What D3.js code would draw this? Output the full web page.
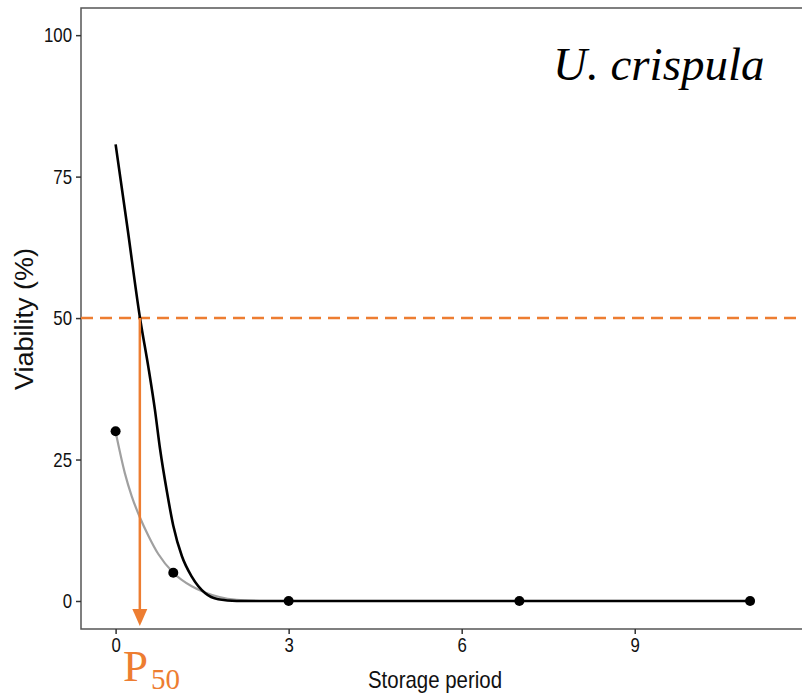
<!DOCTYPE html>
<html>
<head>
<meta charset="utf-8">
<script src="https://cdn.jsdelivr.net/npm/d3@7"></script>
<style>
  body { margin: 0; background: #fff; }
  svg { display: block; }
</style>
</head>
<body>
<script>
// values
var pointX = [0, 1, 3, 7, 11];
var pointY = [30, 5, 0, 0, 0];

// black fitted curve
var blackX = [0, 0.21, 0.42, 0.57, 0.68, 0.77, 0.89, 1.0, 1.15, 1.32, 1.55, 1.78, 2.1, 2.5, 3, 7, 11];
var blackY = [80.7, 65.6, 50.2, 41.2, 33.9, 26.9, 19.3, 13.3, 7.9, 4.3, 1.4, 0.3, 0, 0, 0, 0, 0];

// grey fitted curve
var grayX = [0, 0.16, 0.28, 0.42, 0.57, 0.74, 1.0, 1.32, 1.55, 1.8, 2.1, 2.5];
var grayY = [29.9, 22.6, 18.5, 14.8, 11.5, 8.3, 5.0, 2.6, 1.5, 0.7, 0.2, 0];

var p50 = 0.42;
var xTicks = [0, 3, 6, 9];
var yTicks = [0, 25, 50, 75, 100];

var width = 802, height = 697;
var orange = "#ED7D31";

var svg = d3.select("body").append("svg")
    .attr("width", width)
    .attr("height", height);

var x = d3.scaleLinear().domain([-0.6, 11.9]).range([81, 802]);
var y = d3.scaleLinear().domain([-4.95, 104.8]).range([629, 8]);

// panel border
svg.append("rect")
    .attr("x", 81).attr("y", 8)
    .attr("width", 730).attr("height", 621)
    .attr("fill", "none")
    .attr("stroke", "#555")
    .attr("stroke-width", 1.5);

// axes
var yAxis = svg.append("g")
    .attr("transform", "translate(81,0)")
    .call(d3.axisLeft(y).tickValues(yTicks).tickSize(5).tickPadding(4));
var xAxis = svg.append("g")
    .attr("transform", "translate(0,629)")
    .call(d3.axisBottom(x).tickValues(xTicks).tickSize(5).tickPadding(3));

[yAxis, xAxis].forEach(function(a) {
    a.select(".domain").remove();
    a.selectAll(".tick line").attr("stroke", "#333").attr("stroke-width", 1.5);
    a.selectAll(".tick text")
        .attr("font-family", "Liberation Sans, Arial, sans-serif")
        .attr("font-size", 21)
        .attr("fill", "#111")
        .each(function() {
            var w = this.getComputedTextLength();
            d3.select(this).attr("textLength", w * 0.8).attr("lengthAdjust", "spacingAndGlyphs");
        });
});

// axis titles
svg.append("text")
    .attr("x", 435).attr("y", 688)
    .attr("text-anchor", "middle")
    .attr("font-family", "Liberation Sans, Arial, sans-serif")
    .attr("font-size", 24)
    .attr("fill", "#111")
    .attr("textLength", 134).attr("lengthAdjust", "spacingAndGlyphs")
    .text("Storage period");

svg.append("text")
    .attr("transform", "translate(33,319) rotate(-90)")
    .attr("text-anchor", "middle")
    .attr("font-family", "Liberation Sans, Arial, sans-serif")
    .attr("font-size", 25)
    .attr("fill", "#111")
    .attr("textLength", 142).attr("lengthAdjust", "spacingAndGlyphs")
    .text("Viability (%)");

// dashed 50% line
svg.append("line")
    .attr("x1", 81).attr("x2", 802)
    .attr("y1", y(50)).attr("y2", y(50))
    .attr("stroke", orange)
    .attr("stroke-width", 2.5)
    .attr("stroke-dasharray", "12,7");

var line = d3.line()
    .x(function(d) { return x(d[0]); })
    .y(function(d) { return y(d[1]); })
    .curve(d3.curveMonotoneX);

// grey curve
svg.append("path")
    .datum(d3.zip(grayX, grayY))
    .attr("d", line)
    .attr("fill", "none")
    .attr("stroke", "#A0A0A0")
    .attr("stroke-width", 2.2);

// black curve
svg.append("path")
    .datum(d3.zip(blackX, blackY))
    .attr("d", line)
    .attr("fill", "none")
    .attr("stroke", "#000")
    .attr("stroke-width", 2.6);

// P50 arrow
var ax = x(p50);
svg.append("line")
    .attr("x1", ax).attr("x2", ax)
    .attr("y1", y(50)).attr("y2", 612)
    .attr("stroke", orange)
    .attr("stroke-width", 2.5);
svg.append("path")
    .attr("d", "M" + (ax - 7.5) + ",609 L" + (ax + 7.5) + ",609 L" + ax + ",626 Z")
    .attr("fill", orange);

// points
svg.selectAll("circle.pt")
    .data(d3.zip(pointX, pointY))
    .enter()
    .append("circle")
    .attr("class", "pt")
    .attr("cx", function(d) { return x(d[0]); })
    .attr("cy", function(d) { return y(d[1]); })
    .attr("r", 5)
    .attr("fill", "#000");

// species label
svg.append("text")
    .attr("x", 553).attr("y", 80)
    .attr("font-family", "Liberation Serif, Times New Roman, serif")
    .attr("font-style", "italic")
    .attr("font-size", 47)
    .attr("fill", "#000")
    .text("U. crispula");

// P50 label
svg.append("text")
    .attr("x", 123).attr("y", 681)
    .attr("font-family", "Liberation Serif, Times New Roman, serif")
    .attr("font-size", 45)
    .attr("fill", orange)
    .text("P");
svg.append("text")
    .attr("x", 151).attr("y", 689)
    .attr("font-family", "Liberation Serif, Times New Roman, serif")
    .attr("font-size", 29)
    .attr("fill", orange)
    .text("50");
</script>
</body>
</html>
